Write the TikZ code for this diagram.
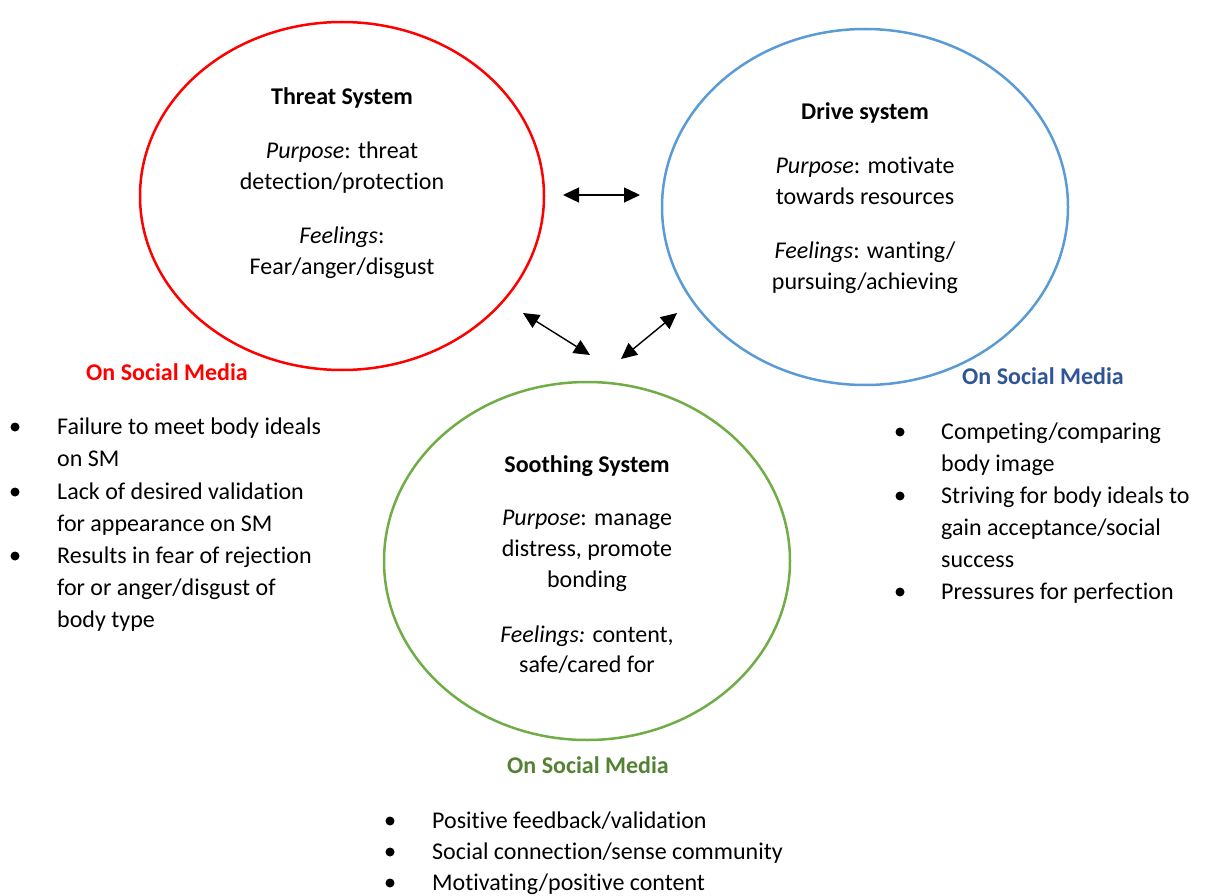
\documentclass[tikz,border=0pt]{standalone}
\usepackage{fontspec}
\setmainfont[Ligatures={NoCommon}]{Carlito}
\usetikzlibrary{arrows.meta}
\definecolor{threatred}{HTML}{FF0000}
\definecolor{driveblue}{HTML}{5B9BD5}
\definecolor{soothegreen}{HTML}{70AD47}
\definecolor{smblue}{HTML}{2F5597}
\definecolor{smgreen}{HTML}{548235}
\begin{document}
\begin{tikzpicture}[x=1pt,y=-1pt,
  txt/.style={font=\fontsize{24}{32}\selectfont, inner sep=0pt, anchor=base},
  ltxt/.style={font=\fontsize{24}{32}\selectfont, inner sep=0pt, anchor=base west},
  head/.style={font=\fontsize{24}{32}\selectfont\bfseries, inner sep=0pt, anchor=base},
  bul/.style={circle, fill=black, inner sep=0pt, minimum size=9pt},
  sys/.style={line width=2.5pt},
  link/.style={line width=1.4pt, {Triangle[length=16pt,width=15pt]}-{Triangle[length=16pt,width=15pt]}}
]
\useasboundingbox (0,0) rectangle (1208,896);
% circles
\draw[sys, threatred] (342,196) ellipse [x radius=202, y radius=174];
\draw[sys, driveblue] (865,207) ellipse [x radius=203, y radius=178];
\draw[sys, soothegreen] (587,561) ellipse [x radius=203, y radius=179];

% threat text
\node[head] (t1) at (342,105) {Threat System};
\node[txt] (t2) at (342,159) {\textit{Purpose}: threat};
\node[txt] (t3) at (342,190) {detection/protection};
\node[txt] (t4) at (342,244) {\textit{Feelings}:};
\node[txt] (t5) at (342,275) {Fear/anger/disgust};

% drive text
\node[head] (d1) at (865,120) {Drive system};
\node[txt] (d2) at (865,174) {\textit{Purpose}: motivate};
\node[txt] (d3) at (865,205) {towards resources};
\node[txt] (d4) at (865,259) {\textit{Feelings}: wanting/};
\node[txt] (d5) at (865,290) {pursuing/achieving};

% soothing text
\node[head] (s1) at (587,472) {Soothing System};
\node[txt] (s2) at (587,525) {\textit{Purpose}: manage};
\node[txt] (s3) at (587,556) {distress, promote};
\node[txt] (s4) at (587,587) {bonding};
\node[txt] (s5) at (587,642) {\textit{Feelings:} content,};
\node[txt] (s6) at (587,672) {safe/cared for};

% arrows
\coordinate (a1) at (563,195);
\coordinate (a2) at (640,195);
\coordinate (b1) at (523,313);
\coordinate (b2) at (590,355);
\coordinate (c1) at (677,313);
\coordinate (c2) at (621,359);
\draw[link] (a1) -- (a2);
\draw[link] (b1) -- (b2);
\draw[link] (c1) -- (c2);

% On Social Media headings
\node[head, threatred] (h1) at (167,380) {On Social Media};
\node[head, smblue] (h2) at (1043,384) {On Social Media};
\node[head, smgreen] (h3) at (588,773) {On Social Media};

% left list
\node[bul] (lb1) at (15,427) {};
\node[ltxt] (l1) at (57,434) {Failure to meet body ideals};
\node[ltxt] (l2) at (57,466) {on SM};
\node[bul] (lb2) at (15,492) {};
\node[ltxt] (l3) at (57,499) {Lack of desired validation};
\node[ltxt] (l4) at (57,531) {for appearance on SM};
\node[bul] (lb3) at (15,556) {};
\node[ltxt] (l5) at (57,563) {Results in fear of rejection};
\node[ltxt] (l6) at (57,595) {for or anger/disgust of};
\node[ltxt] (l7) at (57,627) {body type};

% right list
\node[bul] (rb1) at (900,432) {};
\node[ltxt] (r1) at (941,439) {Competing/comparing};
\node[ltxt] (r2) at (941,471) {body image};
\node[bul] (rb2) at (900,496) {};
\node[ltxt] (r3) at (941,503) {Striving for body ideals to};
\node[ltxt] (r4) at (941,535) {gain acceptance/social};
\node[ltxt] (r5) at (941,567) {success};
\node[bul] (rb3) at (900,592) {};
\node[ltxt] (r6) at (941,599) {Pressures for perfection};

% bottom list
\node[bul] (bb1) at (390,821) {};
\node[ltxt] (m1) at (432,828) {Positive feedback/validation};
\node[bul] (bb2) at (390,852) {};
\node[ltxt] (m2) at (432,859) {Social connection/sense community};
\node[bul] (bb3) at (390,883) {};
\node[ltxt] (m3) at (432,890) {Motivating/positive content};
\end{tikzpicture}
\end{document}
